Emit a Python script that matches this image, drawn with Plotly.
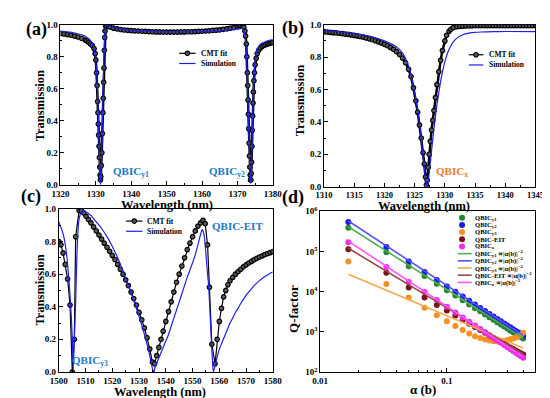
import plotly.graph_objects as go

W, H = 550, 398
FONT = "Liberation Serif"

# ---------------- panel (a) ----------------
a_cmt_wl = [1320, 1321, 1322, 1323, 1324, 1325, 1326, 1327, 1327.5, 1328, 1328.5, 1329, 1329.5, 1329.8,
            1330.0, 1330.2, 1330.35, 1330.5, 1330.6, 1330.7, 1330.8, 1330.9, 1331.0, 1331.1, 1331.2, 1331.3,
            1331.4, 1331.55, 1331.7, 1331.85, 1332.0, 1332.1, 1332.2, 1332.3, 1332.4, 1332.5, 1332.6, 1332.75,
            1333.0, 1333.5, 1334, 1335, 1336, 1337, 1338, 1339, 1340, 1341, 1342, 1343, 1344, 1345, 1346, 1347,
            1348, 1349, 1350, 1351, 1352, 1353, 1354, 1355, 1356, 1357, 1358, 1359, 1360, 1361, 1362, 1363,
            1364, 1365, 1366, 1367, 1368, 1369, 1370, 1370.5, 1371, 1371.5, 1371.8, 1372.1, 1372.3, 1372.5,
            1372.65, 1372.8, 1372.9, 1373.0, 1373.1, 1373.2, 1373.3, 1373.4, 1373.5, 1373.6, 1373.7, 1373.8,
            1373.9, 1374.0, 1374.1, 1374.2, 1374.3, 1374.4, 1374.5, 1374.65, 1374.8, 1375.0, 1375.3, 1375.6,
            1376.0, 1376.5, 1377, 1377.5, 1378, 1378.5, 1379, 1379.5, 1380]
a_cmt_T = [0.945, 0.942, 0.938, 0.934, 0.929, 0.923, 0.914, 0.904, 0.898, 0.89, 0.88, 0.87, 0.85, 0.82,
           0.78, 0.70, 0.62, 0.52, 0.45, 0.38, 0.31, 0.24, 0.17, 0.11, 0.06, 0.03,
           0.05, 0.12, 0.20, 0.32, 0.45, 0.54, 0.64, 0.73, 0.84, 0.92, 0.96, 0.99,
           0.995, 0.99, 0.985, 0.978, 0.974, 0.97, 0.967, 0.965, 0.963, 0.961, 0.96, 0.959, 0.958, 0.957, 0.956, 0.955,
           0.955, 0.954, 0.954, 0.954, 0.954, 0.954, 0.955, 0.955, 0.956, 0.956, 0.957, 0.958, 0.959, 0.96, 0.962, 0.964,
           0.966, 0.968, 0.971, 0.974, 0.978, 0.982, 0.987, 0.991, 0.994, 0.995, 0.985, 0.96, 0.93, 0.88,
           0.80, 0.70, 0.62, 0.53, 0.44, 0.35, 0.26, 0.18, 0.11, 0.06, 0.03, 0.03,
           0.07, 0.14, 0.24, 0.34, 0.43, 0.51, 0.58, 0.65, 0.70, 0.75, 0.79, 0.82,
           0.84, 0.855, 0.865, 0.871, 0.876, 0.88, 0.883, 0.886, 0.888]
a_sim_wl = [1320, 1322, 1324, 1326, 1327, 1328, 1328.5, 1329, 1329.5, 1329.8, 1330.1, 1330.3, 1330.5, 1330.7,
            1330.9, 1331.1, 1331.25, 1331.35, 1331.5, 1331.7, 1331.9, 1332.1, 1332.3, 1332.5, 1332.7, 1333.0,
            1333.5, 1335, 1340, 1345, 1350, 1355, 1360, 1365, 1368, 1370, 1371, 1371.6, 1372.0, 1372.3, 1372.6,
            1372.9, 1373.2, 1373.5, 1373.7, 1373.85, 1374.0, 1374.2, 1374.4, 1374.6, 1374.8, 1375.1, 1375.5,
            1376, 1377, 1378, 1379, 1380]
a_sim_T = [0.96, 0.955, 0.948, 0.937, 0.928, 0.912, 0.90, 0.88, 0.845, 0.81, 0.74, 0.67, 0.56, 0.42,
           0.26, 0.10, 0.02, 0.0, 0.08, 0.22, 0.42, 0.62, 0.80, 0.92, 0.98, 1.0,
           0.995, 0.982, 0.965, 0.958, 0.955, 0.955, 0.957, 0.962, 0.968, 0.973, 0.976, 0.975, 0.95, 0.90, 0.78,
           0.58, 0.34, 0.11, 0.01, 0.02, 0.12, 0.32, 0.50, 0.63, 0.72, 0.79, 0.84,
           0.865, 0.885, 0.895, 0.902, 0.907]

# ---------------- panel (b) ----------------
b_cmt_wl = [1310, 1310.5, 1311, 1311.5, 1312, 1312.5, 1313, 1313.5, 1314, 1314.5, 1315, 1315.5, 1316, 1316.5,
            1317, 1317.5, 1318, 1318.5, 1319, 1319.5, 1320, 1320.5, 1321, 1321.5, 1322, 1322.5, 1323, 1323.5,
            1324, 1324.4, 1324.8, 1325.2, 1325.5, 1325.8, 1326.1, 1326.4, 1326.6, 1326.8, 1326.95, 1327.1,
            1327.25, 1327.4, 1327.6, 1327.8, 1328.0, 1328.2, 1328.45, 1328.7, 1329.0, 1329.3, 1329.6, 1330.0,
            1330.3, 1330.7, 1331.0, 1331.4, 1332, 1332.5, 1333, 1333.5, 1334, 1334.5, 1335, 1335.5, 1336, 1336.5,
            1337, 1337.5, 1338, 1338.5, 1339, 1339.5, 1340, 1340.5, 1341, 1341.5, 1342, 1342.5, 1343, 1343.5,
            1344, 1344.5, 1345]
b_cmt_T = [0.957, 0.955, 0.953, 0.951, 0.949, 0.947, 0.945, 0.942, 0.94, 0.937, 0.934, 0.931, 0.927, 0.923,
           0.918, 0.913, 0.907, 0.901, 0.894, 0.887, 0.879, 0.87, 0.86, 0.848, 0.834, 0.816, 0.794, 0.765,
           0.725, 0.68, 0.61, 0.53, 0.46, 0.38, 0.30, 0.21, 0.14, 0.06, 0.01, 0.04,
           0.12, 0.20, 0.28, 0.35, 0.41, 0.47, 0.55, 0.63, 0.71, 0.78, 0.84, 0.90,
           0.935, 0.96, 0.972, 0.982, 0.988, 0.99, 0.991, 0.992, 0.993, 0.993, 0.994, 0.994, 0.994, 0.994,
           0.994, 0.994, 0.994, 0.994, 0.994, 0.994, 0.994, 0.994, 0.994, 0.994, 0.994, 0.994, 0.994, 0.994,
           0.994, 0.994, 0.994]
b_sim_wl = [1310, 1312, 1314, 1316, 1318, 1320, 1322, 1323, 1324, 1325, 1325.5, 1326, 1326.5, 1326.9, 1327.1,
            1327.4, 1327.8, 1328.2, 1328.6, 1329, 1329.5, 1330, 1330.5, 1331, 1331.5, 1332, 1333, 1334, 1335,
            1336, 1338, 1340, 1345]
b_sim_T = [0.965, 0.958, 0.95, 0.94, 0.925, 0.90, 0.862, 0.825, 0.745, 0.58, 0.47, 0.33, 0.15, 0.02, 0.0,
           0.08, 0.22, 0.36, 0.48, 0.58, 0.69, 0.77, 0.83, 0.87, 0.898, 0.917, 0.938, 0.948, 0.953,
           0.955, 0.957, 0.958, 0.957]

# ---------------- panel (c) ----------------
c_cmt_wl = [1500, 1500.8, 1501.6, 1502.4, 1503.3, 1504.2, 1505.05, 1505.8, 1506.3, 1507.6, 1508.4, 1509.3,
            1510.2, 1511.1, 1512, 1513, 1514, 1515, 1516, 1517, 1518, 1519, 1520, 1521, 1522, 1523, 1524,
            1525, 1526, 1527, 1528, 1529, 1530, 1531, 1532, 1533, 1534, 1535, 1535.8, 1536.6, 1537.4, 1538.2,
            1539, 1540, 1541, 1542, 1543, 1544, 1545, 1546, 1547, 1548, 1549, 1550, 1551, 1552, 1553, 1553.9,
            1554.7, 1555.6, 1556.3, 1557.2, 1558.4, 1559.2, 1560, 1560.8, 1561.6, 1562.4, 1563.2, 1564, 1565,
            1566, 1567, 1568, 1569, 1570, 1571, 1572, 1573, 1574, 1575, 1576, 1577, 1578, 1579, 1580]
c_cmt_T = [0.80, 0.78, 0.73, 0.66, 0.57, 0.41, 0.0, 0.20, 0.83, 0.99, 0.99, 0.975,
           0.955, 0.935, 0.915, 0.89, 0.865, 0.84, 0.815, 0.79, 0.765, 0.74, 0.715, 0.69, 0.66, 0.63, 0.60,
           0.565, 0.53, 0.49, 0.45, 0.41, 0.365, 0.32, 0.27, 0.21, 0.14, 0.06, 0.05, 0.10, 0.15, 0.20,
           0.25, 0.31, 0.37, 0.43, 0.49, 0.55, 0.60, 0.65, 0.70, 0.75, 0.79, 0.83, 0.865, 0.895, 0.915, 0.93,
           0.91, 0.78, 0.52, 0.17, 0.05, 0.20, 0.31, 0.39, 0.46, 0.50, 0.535, 0.56, 0.58,
           0.60, 0.615, 0.63, 0.645, 0.657, 0.668, 0.678, 0.688, 0.697, 0.705, 0.712, 0.72, 0.726, 0.732, 0.738]
c_sim_wl = [1500, 1501.2, 1502, 1503, 1503.6, 1504.2, 1504.7, 1505.05, 1505.4, 1505.8, 1506.3, 1506.8, 1507.5,
            1508.4, 1509.5, 1510, 1512, 1514, 1516, 1518, 1520, 1522, 1524, 1526, 1528, 1530, 1532, 1534, 1535,
            1535.5, 1536, 1537, 1538, 1539, 1540, 1541, 1542, 1543, 1544, 1545, 1546, 1547, 1548, 1549, 1550,
            1551, 1552, 1553, 1553.6, 1554.0, 1554.4, 1555.0, 1555.5, 1556, 1556.5, 1557, 1557.5, 1557.8,
            1558.6, 1559.3, 1560, 1561, 1562, 1563, 1564, 1565, 1566, 1567, 1568, 1569, 1570, 1571, 1572, 1573,
            1574, 1575, 1576, 1577, 1578, 1579, 1580]
c_sim_T = [0.92, 0.87, 0.82, 0.71, 0.60, 0.47, 0.33, 0.20, 0.02, 0.20, 0.43, 0.73, 0.93,
           0.98, 0.99, 0.985, 0.96, 0.92, 0.88, 0.83, 0.77, 0.70, 0.62, 0.53, 0.44, 0.34, 0.23, 0.10, 0.02,
           0.0, 0.03, 0.07, 0.11, 0.15, 0.19, 0.23, 0.28, 0.33, 0.38, 0.43, 0.48, 0.53, 0.58, 0.625, 0.67,
           0.72, 0.78, 0.845, 0.875, 0.86, 0.83, 0.72, 0.62, 0.53, 0.37, 0.20, 0.05, 0.0,
           0.05, 0.10, 0.14, 0.18, 0.22, 0.26, 0.30, 0.33, 0.365, 0.39, 0.42, 0.445, 0.47, 0.49, 0.51, 0.53,
           0.545, 0.56, 0.573, 0.585, 0.595, 0.605, 0.613]

# ---------------- panel (d) ----------------
alpha = [0.0167, 0.0333, 0.05, 0.0667, 0.0833, 0.1, 0.1167, 0.1333, 0.15, 0.1667, 0.1833, 0.2,
         0.2167, 0.2333, 0.25, 0.2667, 0.2833, 0.3, 0.3167, 0.3333, 0.35, 0.3667, 0.3833, 0.4]
q_y1 = [390000, 96000, 43000, 24500, 15800, 10800, 8000, 6100, 4800, 3900, 3250, 2720,
        2320, 2000, 1740, 1530, 1360, 1210, 1090, 985, 895, 815, 745, 690]
q_y2 = [540000, 129000, 56000, 31000, 19500, 13500, 9900, 7600, 5950, 4800, 3950, 3300,
        2800, 2420, 2100, 1840, 1630, 1450, 1300, 1170, 1060, 965, 880, 800]
q_y3 = [56000, 15500, 7200, 4000, 2600, 1850, 1400, 1120, 910, 780, 710, 650,
        615, 590, 580, 585, 600, 625, 655, 690, 730, 780, 850, 950]
q_eit = [113000, 29500, 12800, 7200, 4700, 3400, 2550, 1980, 1600, 1320, 1110, 950,
         820, 715, 630, 560, 500, 450, 410, 375, 345, 318, 295, 275]
q_x = [170000, 41000, 17500, 9800, 6200, 4200, 3050, 2300, 1800, 1450, 1180, 980,
       830, 710, 615, 540, 475, 420, 375, 338, 305, 277, 252, 230]
fit_alpha = [0.0167, 0.4]
fit_y1 = [410000, 700]
fit_y2 = [570000, 820]
fit_y3 = [27000, 400]
fit_eit = [120000, 285]
fit_x = [180000, 240]

d_names = ["QBIC<sub>y1</sub>", "QBIC<sub>y2</sub>", "QBIC<sub>y3</sub>", "QBIC-EIT", "QBIC<sub>x</sub>"]
d_fit_names = [n + " ∝|α(b)|<sup>−2</sup>" for n in d_names]
d_mcolors = ["#23862f", "#1a1ae6", "#f39222", "#7a1414", "#f22af2"]
d_lcolors = ["#4fb050", "#5555ff", "#f6a94c", "#9a4747", "#ff55ff"]

BLUE = "#1f1fe8"
LBLUE = "#1b78c8"
ORANGE = "#ec7a2a"

fig = go.Figure()


def dx(l, r):
    return [l / W, r / W]


def dy(t, b):
    return [1 - b / H, 1 - t / H]


cmt_marker = dict(symbol="circle", size=4.5, color="#5a5a5a", line=dict(color="black", width=1.2))

for xs, ys, xa, ya, lw in [(a_cmt_wl, a_cmt_T, "x", "y", 2.5), (b_cmt_wl, b_cmt_T, "x2", "y2", 2.5),
                           (c_cmt_wl, c_cmt_T, "x3", "y3", 1.2)]:
    fig.add_trace(go.Scatter(x=xs, y=ys, xaxis=xa, yaxis=ya, mode="lines+markers",
                             line=dict(color="black", width=lw), marker=cmt_marker,
                             showlegend=False, cliponaxis=True))
for xs, ys, xa, ya in [(a_sim_wl, a_sim_T, "x", "y"), (b_sim_wl, b_sim_T, "x2", "y2"),
                       (c_sim_wl, c_sim_T, "x3", "y3")]:
    fig.add_trace(go.Scatter(x=xs, y=ys, xaxis=xa, yaxis=ya, mode="lines",
                             line=dict(color=BLUE, width=1.2, shape="spline", smoothing=0.6),
                             showlegend=False))

q_all = [q_y1, q_y2, q_y3, q_eit, q_x]
fit_all = [fit_y1, fit_y2, fit_y3, fit_eit, fit_x]
for q, c in zip(q_all, d_mcolors):
    fig.add_trace(go.Scatter(x=alpha, y=q, xaxis="x4", yaxis="y4", mode="markers",
                             marker=dict(size=6, color=c, line=dict(width=0)), showlegend=False))
for f, c in zip(fit_all, d_lcolors):
    fig.add_trace(go.Scatter(x=fit_alpha, y=f, xaxis="x4", yaxis="y4", mode="lines",
                             line=dict(color=c, width=1.6), showlegend=False))

# ---------- custom legends (pixel overlay axes x5/y5) ----------
ann = []


def txt(x, y, s, size, color="black", xanchor="left", bold=True, angle=0):
    ann.append(dict(x=x, y=y, xref="x5", yref="y5", text=s, showarrow=False, xanchor=xanchor,
                    yanchor="middle", textangle=angle,
                    font=dict(family=FONT, size=size, color=color, weight="bold" if bold else "normal")))


for (lx0, lx1, tx, ry) in [(168, 185, 189, 39.5), (468, 483, 487, 41), (113, 130, 133, 212.5)]:
    fig.add_trace(go.Scatter(x=[lx0, lx1], y=[ry, ry], xaxis="x5", yaxis="y5", mode="lines",
                             line=dict(color="black", width=1.2), showlegend=False))
    fig.add_trace(go.Scatter(x=[(lx0 + lx1) / 2], y=[ry], xaxis="x5", yaxis="y5", mode="markers",
                             marker=cmt_marker, showlegend=False))
    fig.add_trace(go.Scatter(x=[lx0, lx1], y=[ry + 10.5, ry + 10.5], xaxis="x5", yaxis="y5", mode="lines",
                             line=dict(color=BLUE, width=1.2), showlegend=False))
    txt(tx, ry, "CMT fit", 7.5)
    txt(tx, ry + 10.5, "Simulation", 7.5)

row0, drow = 209, 7.41
for i, c in enumerate(d_mcolors):
    fig.add_trace(go.Scatter(x=[461], y=[row0 + i * drow], xaxis="x5", yaxis="y5", mode="markers",
                             marker=dict(size=6, color=c), showlegend=False))
    txt(472, row0 + i * drow, d_names[i], 6.6)
for i, c in enumerate(d_lcolors):
    ry = row0 + (i + 5) * drow
    fig.add_trace(go.Scatter(x=[456.5, 471], y=[ry, ry], xaxis="x5", yaxis="y5", mode="lines",
                             line=dict(color=c, width=1.6), showlegend=False))
    txt(472, ry, d_fit_names[i], 6.6)

# panel labels
txt(20, 15, "(a)", 18, xanchor="center")
txt(286, 14, "(b)", 18, xanchor="center")
txt(14, 187, "(c)", 18, xanchor="center")
txt(286, 188, "(d)", 18, xanchor="center")

# axis titles
txt(24, 94, "Transmission", 12.5, xanchor="center", angle=-90)
txt(155, 195.5, "Wavelength (nm)", 12.5, xanchor="center")
txt(294, 88, "Transmission", 12.5, xanchor="center", angle=-90)
txt(422, 196.5, "Wavelength (nm)", 12.5, xanchor="center")
txt(24, 284, "Transmission", 12.5, xanchor="center", angle=-90)
txt(148, 388.5, "Wavelength (nm)", 12.5, xanchor="center")
txt(287, 303, "Q-factor", 13, xanchor="center", angle=-90)
txt(421, 386.5, "α (b)", 13, xanchor="center")

# resonance labels
txt(97, 162, "QBIC<sub>y1</sub>", 11, color=LBLUE)
txt(197, 162, "QBIC<sub>y2</sub>", 11, color=LBLUE)
txt(432, 162, "QBIC<sub>x</sub>", 11, color=ORANGE)
txt(55, 357, "QBIC<sub>y3</sub>", 11, color=LBLUE)
txt(200, 218, "QBIC-EIT", 11, color=LBLUE)

tickfont = dict(family=FONT, size=9, color="black", weight="bold")
base = dict(showline=True, linecolor="black", linewidth=1, mirror=True, ticks="inside", ticklen=4,
            tickwidth=1, tickcolor="black", showgrid=False, zeroline=False, tickfont=tickfont)
minor = lambda d: dict(dtick=d, ticks="inside", ticklen=2, tickcolor="black", showgrid=False)

layout = dict(
    width=W, height=H, margin=dict(l=0, r=0, t=0, b=0),
    paper_bgcolor="white", plot_bgcolor="rgba(0,0,0,0)", showlegend=False,
    xaxis=dict(base, domain=dx(45, 265), anchor="y", range=[1320, 1380], dtick=10, tick0=1320, minor=minor(5)),
    yaxis=dict(base, domain=dy(10, 175), anchor="x", range=[0, 1], dtick=0.2, tickformat=".1f", minor=minor(0.1)),
    xaxis2=dict(base, domain=dx(318, 537), anchor="y2", range=[1310, 1345], dtick=5, tick0=1310, minor=minor(2.5),
                tickfont=dict(tickfont, size=8.5)),
    yaxis2=dict(base, domain=dy(10, 177), anchor="x2", range=[0, 1], dtick=0.2, tickformat=".1f", minor=minor(0.1)),
    xaxis3=dict(base, domain=dx(43.3, 265), anchor="y3", range=[1500, 1580], dtick=10, tick0=1500, minor=minor(5)),
    yaxis3=dict(base, domain=dy(200, 368), anchor="x3", range=[0, 1], dtick=0.2, tickformat=".1f", minor=minor(0.1)),
    xaxis4=dict(base, domain=dx(314, 537), anchor="y4", type="log", range=[-2, -0.301],
                tickmode="array", tickvals=[0.01, 0.1], ticktext=["0.01", "0.1"],
                minor=dict(tickmode="array", tickvals=[0.02, 0.03, 0.04, 0.05, 0.06, 0.07, 0.08, 0.09, 0.2, 0.3, 0.4],
                           ticks="inside", ticklen=2, tickcolor="black", showgrid=False)),
    yaxis4=dict(base, domain=dy(202.3, 368.3), anchor="x4", type="log", range=[2, 6],
                tickmode="array", tickvals=[1e2, 1e3, 1e4, 1e5, 1e6],
                ticktext=["10<sup>2</sup>", "10<sup>3</sup>", "10<sup>4</sup>", "10<sup>5</sup>", "10<sup>6</sup>"]),
    xaxis5=dict(domain=[0, 1], range=[0, W], visible=False, anchor="y5", fixedrange=True),
    yaxis5=dict(domain=[0, 1], range=[H, 0], visible=False, anchor="x5", fixedrange=True),
    annotations=ann,
)
fig.update_layout(**layout)
fig.write_html("out.html")
